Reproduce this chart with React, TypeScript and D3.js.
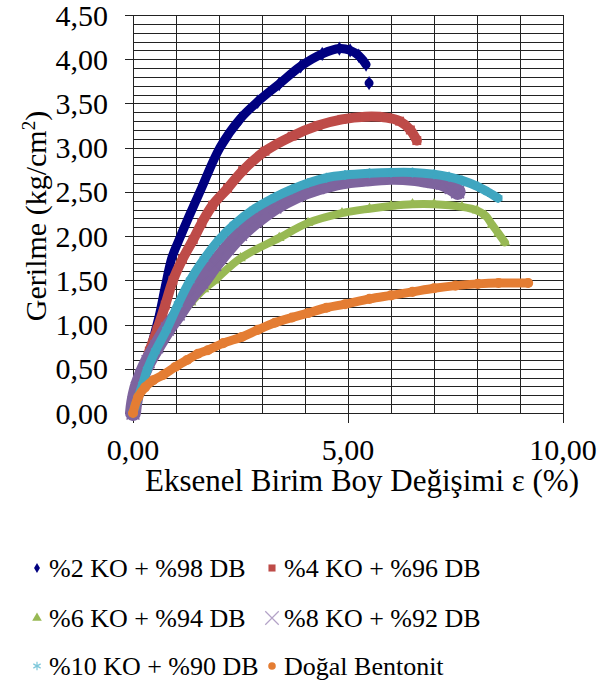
import React from 'react'
import * as d3 from 'd3'

// strain (%) / stress (kg/cm2)
const ko2X = [0, 0.12, 0.28, 0.45, 0.62, 0.76, 0.9, 1.09, 1.3, 1.6, 2.02, 2.5, 2.9, 3.4, 3.9, 4.4, 4.8, 5.05, 5.25, 5.42, NaN, 5.49]
const ko2Y = [0, 0.22, 0.48, 0.8, 1.12, 1.45, 1.75, 1.98, 2.22, 2.55, 3.0, 3.33, 3.52, 3.72, 3.92, 4.06, 4.12, 4.1, 4.04, 3.94, NaN, 3.73]

const ko4X = [0, 0.1, 0.22, 0.38, 0.56, 0.75, 0.93, 1.15, 1.4, 1.6, 1.85, 2.2, 2.55, 3.07, 3.7, 4.3, 4.86, 5.4, 5.9, 6.2, 6.45, 6.6]
const ko4Y = [0, 0.25, 0.45, 0.7, 0.94, 1.22, 1.5, 1.74, 1.96, 2.15, 2.35, 2.54, 2.74, 2.96, 3.13, 3.25, 3.32, 3.35, 3.34, 3.3, 3.2, 3.08]

const ko6X = [0, 0.05, 0.12, 0.25, 0.45, 0.7, 1.0, 1.35, 1.65, 1.9, 2.5, 3.4, 4.07, 4.86, 5.5, 6.0, 6.5, 7.0, 7.65, 8.0, 8.2, 8.35, 8.5, 8.65]
const ko6Y = [0, 0.15, 0.29, 0.45, 0.65, 0.85, 1.05, 1.25, 1.4, 1.5, 1.75, 1.98, 2.15, 2.26, 2.31, 2.34, 2.36, 2.36, 2.33, 2.29, 2.23, 2.13, 2.03, 1.93]

const ko8X = [0, 0.03, 0.1, 0.2, 0.35, 0.55, 0.8, 1.05, 1.3, 1.6, 1.9, 2.2, 2.5, 2.85, 3.3, 3.8, 4.3, 4.86, 5.4, 6.0, 6.5, 6.9, 7.2, 7.4, 7.55]
const ko8Y = [0, 0.12, 0.28, 0.42, 0.58, 0.75, 0.95, 1.12, 1.3, 1.48, 1.68, 1.86, 2.02, 2.17, 2.33, 2.46, 2.55, 2.62, 2.65, 2.67, 2.66, 2.63, 2.6, 2.55, 2.5]

const ko10X = [0, 0.05, 0.12, 0.22, 0.33, 0.52, 0.78, 1.05, 1.33, 1.65, 2.0, 2.35, 2.8, 3.3, 3.7, 4.07, 4.5, 4.93, 5.5, 6.0, 6.5, 7.0, 7.35, 7.65, 8.02, 8.25, 8.49]
const ko10Y = [0, 0.08, 0.18, 0.32, 0.49, 0.7, 0.94, 1.23, 1.5, 1.74, 1.96, 2.13, 2.3, 2.44, 2.53, 2.6, 2.66, 2.69, 2.71, 2.72, 2.72, 2.7, 2.67, 2.63, 2.56, 2.5, 2.43]

const dbX = [0, 0.12, 0.28, 0.47, 0.7, 0.98, 1.26, 1.51, 1.74, 2.1, 2.53, 2.9, 3.3, 3.7, 4.07, 4.5, 4.93, 5.5, 6.0, 6.5, 7.0, 7.5, 8.02, 8.5, 9.19]
const dbY = [0, 0.18, 0.29, 0.37, 0.43, 0.52, 0.6, 0.67, 0.71, 0.79, 0.86, 0.94, 1.02, 1.08, 1.13, 1.19, 1.23, 1.29, 1.33, 1.37, 1.41, 1.44, 1.46, 1.47, 1.47]

const seriesNames = ['%2 KO + %98 DB', '%4 KO + %96 DB', '%6 KO + %94 DB', '%8 KO + %92 DB', '%10 KO + %90 DB', 'Doğal Bentonit']
const xTicks = [0, 5, 10]
const yTicks = [0, 0.5, 1, 1.5, 2, 2.5, 3, 3.5, 4, 4.5]

const series = [
  { xs: ko2X, ys: ko2Y, color: '#000080', sym: d3.symbolDiamond, band: 9, msize: 60, stroke: false },
  { xs: ko4X, ys: ko4Y, color: '#BE4B48', sym: d3.symbolSquare, band: 10, msize: 80, stroke: false },
  { xs: ko6X, ys: ko6Y, color: '#98B954', sym: d3.symbolTriangle, band: 8, msize: 50, stroke: false },
  { xs: ko8X, ys: ko8Y, color: '#7E649E', sym: d3.symbolTimes, band: 16, msize: 110, stroke: true },
  { xs: ko10X, ys: ko10Y, color: '#3FA6C0', sym: d3.symbolAsterisk, band: 9, msize: 70, stroke: true },
  { xs: dbX, ys: dbY, color: '#E47D33', sym: d3.symbolCircle, band: 9, msize: 80, stroke: false }
]
const legendColors = ['#000080', '#BE4B48', '#98B954', '#B3A2C7', '#7CC7DA', '#E47D33']

const locale = d3.formatLocale({ decimal: ',', thousands: '.', grouping: [3], currency: ['', ''] })
const fmt = locale.format('.2f')

const FONT = '"Liberation Serif", "Times New Roman", serif'

export default function App() {
  const x = d3.scaleLinear().domain([0, 10]).range([133, 563])
  const y = d3.scaleLinear().domain([0, 4.5]).range([413, 15])

  const minor = d3.range(0, 46).map(i => i / 10)
  const vert = d3.range(0, 11)

  const line = d3.line<[number, number]>()
    .defined(d => !isNaN(d[0]))
    .x(d => x(d[0]))
    .y(d => y(d[1]))
    .curve(d3.curveCatmullRom)

  return (
    <svg width={614} height={689} style={{ position: 'absolute', left: 0, top: 0, background: '#fff' }} fontFamily={FONT}>
      <g shapeRendering="crispEdges" stroke="#222" strokeWidth={1}>
        {minor.map(v => (
          <line key={'h' + v} x1={yTicks.some(t => Math.abs(t - v) < 1e-6) ? 125 : 133} x2={563} y1={Math.round(y(v)) + 0.5} y2={Math.round(y(v)) + 0.5} />
        ))}
        {vert.map(v => (
          <line key={'v' + v} x1={Math.round(x(v)) + 0.5} x2={Math.round(x(v)) + 0.5} y1={15} y2={xTicks.includes(v) ? 423 : 413} />
        ))}
      </g>

      <g>
        {series.map((s, i) => {
          const pts = s.xs.map((v, j) => [v, s.ys[j]] as [number, number])
          const sym = d3.symbol().type(s.sym).size(s.msize)()
          return (
            <g key={i}>
              <path d={line(pts) || ''} fill="none" stroke={s.color} strokeWidth={s.band} strokeLinecap="round" strokeLinejoin="round" />
              {pts.filter(p => !isNaN(p[0])).map((p, j) => (
                <path key={j} d={sym || ''} transform={`translate(${x(p[0])},${y(p[1])})`}
                  fill={s.stroke ? 'none' : s.color} stroke={s.color} strokeWidth={s.stroke ? 1.5 : 0} />
              ))}
            </g>
          )
        })}
      </g>

      <g fontSize={30} fill="#000">
        {yTicks.map(t => (
          <text key={t} x={108} y={y(t) + 10.5} textAnchor="end">{fmt(t)}</text>
        ))}
        {xTicks.map(t => (
          <text key={t} x={x(t)} y={460} textAnchor="middle">{fmt(t)}</text>
        ))}
        <text x={362} y={491} textAnchor="middle" fontSize={31}>Eksenel Birim Boy Değişimi ε (%)</text>
        <text transform={`translate(46,216) rotate(-90)`} textAnchor="middle">
          Gerilme (kg/cm<tspan dy={-11} fontSize={19}>2</tspan><tspan dy={11}>)</tspan>
        </text>
      </g>

      <g fontSize={26}>
        {seriesNames.map((name, i) => {
          const col = i % 2
          const row = Math.floor(i / 2)
          const bx = col === 0 ? 37 : 272
          const by = [577, 627, 675][row]
          const s = series[i]
          const size = [30, 50, 40, 120, 50, 45][i]
          const sym = d3.symbol().type(s.sym).size(size)()
          return (
            <g key={name}>
              <path d={sym || ''} transform={`translate(${bx},${by - 9})`}
                fill={s.stroke ? 'none' : legendColors[i]} stroke={legendColors[i]} strokeWidth={s.stroke ? 1.2 : 0} />
              <text x={bx + 12} y={by}>{name}</text>
            </g>
          )
        })}
      </g>
    </svg>
  )
}
